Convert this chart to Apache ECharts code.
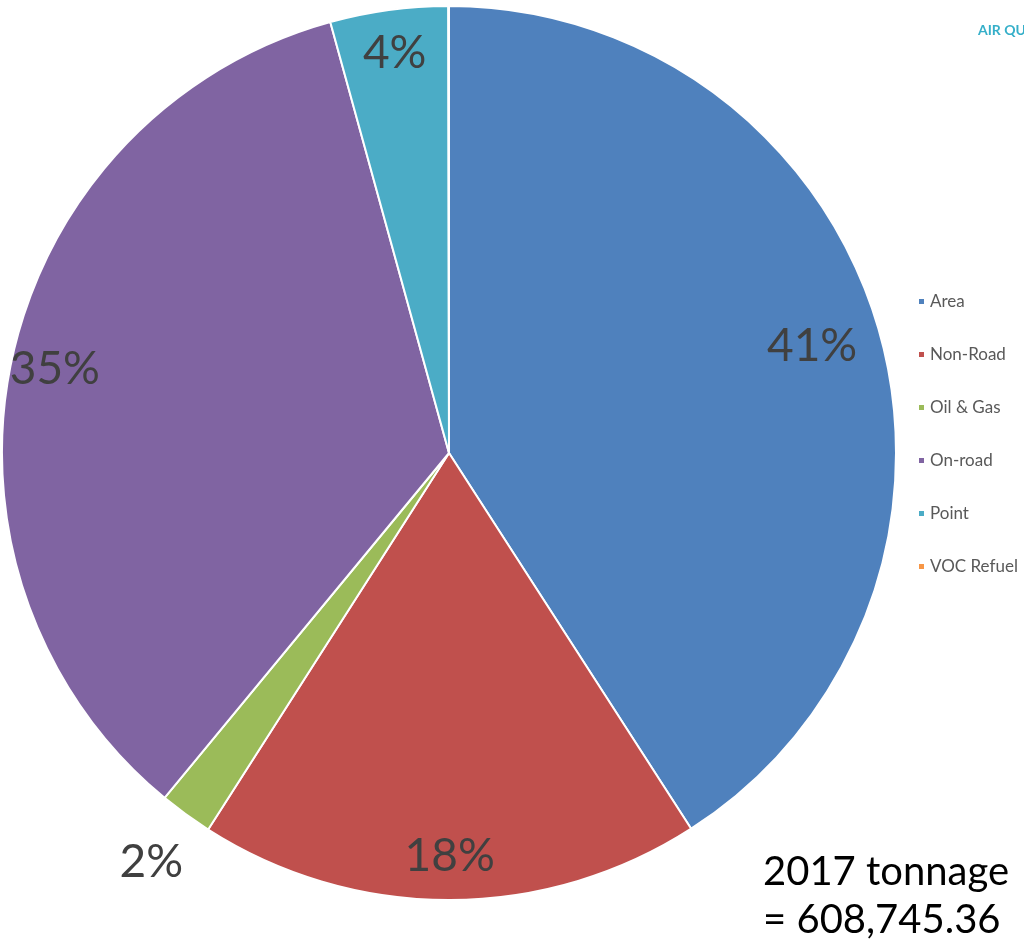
<!DOCTYPE html>
<html>
<head>
<meta charset="utf-8">
<script src="https://cdn.jsdelivr.net/npm/echarts@6/dist/echarts.min.js"></script>
<style>
html,body{margin:0;padding:0;background:#fff;}
#chart{width:1024px;height:947px;}
</style>
</head>
<body>
<div id="chart"></div>
<script>
var categories = ['Area', 'Non-Road', 'Oil & Gas', 'On-road', 'Point', 'VOC Refuel'];
var tonnage = [248900, 110600, 11700, 211500, 25900, 145.36];
var colors = ['#4F81BD', '#C0504D', '#9BBB59', '#8064A2', '#4BACC6', '#F79646'];
var year = '2017';
var totalText = '608,745.36';

var total = tonnage.reduce(function(a, b){ return a + b; }, 0);
function pct(v){ return v / total * 100; }

var chart = echarts.init(document.getElementById('chart'));
var R = 447;
var fontFam = 'Lato, "Open Sans", sans-serif';
var lblStyle = { color: '#404040', fontSize: 46, fontFamily: fontFam };
function fmt(p){ return Math.round(p.percent) + '%'; }

// label rings: [inner, outer] radius fractions and which slices they label
var rings = [
  { r: [0.68, 1.0], test: function(p, i){ return p >= 20 && i === 0; } },
  { r: [0.79, 1.0], test: function(p, i){ return p >= 3 && i !== 0; } },
  { r: [1.0, 1.25], test: function(p, i){ return p >= 0.5 && p < 3; } }
];

var baseData = categories.map(function(c, i){
  return { name: c, value: tonnage[i], itemStyle: { color: colors[i] } };
});

var series = [{
  type: 'pie',
  center: [449, 453],
  radius: [0, R],
  startAngle: 90,
  clockwise: true,
  silent: true,
  label: { show: false },
  labelLine: { show: false },
  itemStyle: { borderColor: '#fff', borderWidth: 2 },
  data: baseData,
  z: 1
}];

rings.forEach(function(ring){
  series.push({
    type: 'pie',
    center: [449, 453],
    radius: [R * ring.r[0], R * ring.r[1]],
    startAngle: 90,
    clockwise: true,
    silent: true,
    itemStyle: { color: 'rgba(0,0,0,0)' },
    label: Object.assign({ position: 'inside', formatter: fmt }, lblStyle),
    labelLine: { show: false },
    data: categories.map(function(c, i){
      return { name: c, value: tonnage[i], label: { show: ring.test(pct(tonnage[i]), i) } };
    }),
    z: 2
  });
});

chart.setOption({
  animation: false,
  color: colors,
  legend: {
    orient: 'vertical',
    left: 912,
    top: 288,
    icon: 'rect',
    itemWidth: 7,
    itemHeight: 7,
    itemGap: 36,
    data: categories,
    textStyle: { color: '#595959', fontSize: 17, fontFamily: fontFam }
  },
  title: {
    text: year + ' tonnage\n= ' + totalText,
    left: 758,
    top: 843,
    textStyle: { color: '#000', fontSize: 40, fontWeight: 'normal', fontFamily: fontFam, lineHeight: 48 }
  },
  graphic: [{
    type: 'text',
    left: 978,
    top: 23,
    style: { text: 'AIR QUALITY', fill: '#35AFC9', font: 'bold 14px ' + fontFam }
  }],
  series: series
});
</script>
</body>
</html>
